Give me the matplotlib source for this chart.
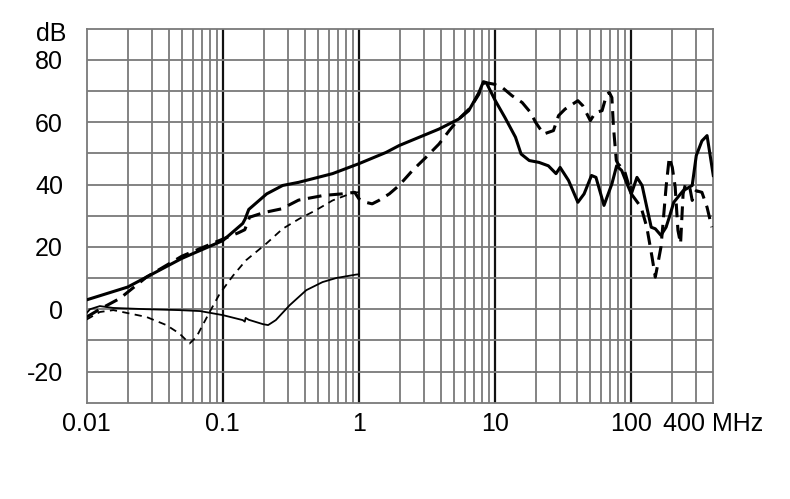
import matplotlib
matplotlib.use('Agg')
import matplotlib.pyplot as plt

plt.rcParams['font.family'] = ['Liberation Sans', 'DejaVu Sans']

# thick solid curve
solid_f = [0.01, 0.02, 0.05, 0.1, 0.14, 0.146, 0.155, 0.21, 0.275, 0.36, 0.64, 1.0, 1.58, 1.97,
           3.87, 5.4, 6.4, 7.6, 8.2, 8.6, 9.0, 10.0, 11.8, 14.1, 15.5, 17.8, 21, 24.6, 28, 30,
           34.6, 40.5, 45, 51, 55, 63, 72, 78, 85, 92, 100, 110, 120, 130, 140, 150, 165, 180,
           190, 205, 240, 280, 300, 330, 360, 400]
solid_db = [3, 7.1, 16.3, 22, 27.5, 29, 32, 37, 39.7, 40.7, 43.5, 46.7, 50.3, 52.5,
            57.8, 61, 63.7, 69.5, 73, 72.7, 71, 67, 61.5, 55.2, 49.8, 47.7, 47.1, 46, 43.5, 45.5,
            41.3, 34.3, 37, 42.9, 42.3, 33.3, 40.2, 46, 44.5, 40.7, 37, 42.3, 39.7, 32.7, 26.3, 25.8, 23.7, 26.3,
            29.5, 34.3, 38, 39.7, 49.3, 54, 55.7, 42.9]

# thick long-dashed curve
dash_f = [0.01, 0.0125, 0.0176, 0.0275, 0.05, 0.1, 0.13, 0.145, 0.157, 0.2, 0.27, 0.36, 0.55, 0.75,
          0.93, 1.0, 1.12, 1.25, 1.4, 1.67, 1.97, 2.47, 3.1, 3.87, 4.6, 5.4, 6.6, 7.6, 8.0, 8.5,
          9.8, 11.3, 13.3, 15.8, 18.2, 19.8, 22.7, 26.8, 29.2, 32.6, 40.5, 44, 50, 54.5, 61, 66,
          69, 72, 74, 77.6, 80, 89, 100, 118, 130, 142, 150, 155, 165, 170, 180, 190, 200, 210,
          220, 230, 240, 250, 270, 280, 300, 330, 360, 390]
dash_db = [-2.5, 0, 3.5, 10.3, 17, 22.5, 24.5, 25.5, 29.5, 31, 32.2, 35, 36.5, 37,
           37.5, 35.4, 34.3, 33.8, 34.9, 37, 39.7, 44.5, 48.7, 53, 57.3, 61, 64.7, 69, 72.2, 72.7,
           72.2, 71.1, 68.5, 66.3, 63.1, 60, 56.2, 57.3, 62.1, 64.2, 66.9, 65.3, 60.5, 63.1, 63.7, 69,
           69.5, 67.9, 58.3, 47.7, 46.6, 44.5, 37, 32.7, 26.3, 16.7, 10.3, 13.5, 19.9, 26.3, 39.2, 48.7, 45.5, 39.2,
           25.3, 21, 37, 40.2, 38.6, 34.9, 38, 37.5, 32.7, 26.3]

# thin short-dashed curve
thin_dash_f = [0.01, 0.0125, 0.0157, 0.0275, 0.0385, 0.048, 0.057, 0.064, 0.08, 0.095, 0.119,
               0.148, 0.208, 0.275, 0.364, 0.48, 0.64, 0.8, 0.95, 1.0]
thin_dash_db = [-3.3, -0.9, -0.3, -2.5, -5.1, -7.8, -11, -8.9, -0.9, 5, 10.8,
                15.7, 21, 25.8, 29, 31.7, 34.9, 36.5, 37.5, 37.5]

# thin solid curve
thin_f = [0.01, 0.0106, 0.0125, 0.0157, 0.0275, 0.048, 0.068, 0.1, 0.14, 0.145, 0.147, 0.155,
          0.197, 0.215, 0.245, 0.31, 0.41, 0.54, 0.68, 0.95, 1.0]
thin_db = [-1.2, 0, 1, 0.4, 0, -0.3, -0.6, -1.9, -3.5, -4, -2.8, -3.4,
           -4.8, -5.1, -3.5, 1.3, 6.1, 8.7, 10, 11.1, 11.2]

x_ticks = [0.01, 0.1, 1, 10, 100, 400]
x_labels = ['0.01', '0.1', '1', '10', '100', '400 MHz']
y_ticks = [-20, 0, 20, 40, 60, 80]
y_labels = ['-20', '0', '20', '40', '60', '80']

fig = plt.figure(figsize=(7.9, 4.99), dpi=100)
ax = fig.add_axes([0.1097, 0.193, 0.7932, 0.7495])
ax.set_xscale('log')
ax.set_xlim(0.01, 400)
ax.set_ylim(-30, 90)

# grid
for dec in [0.01, 0.1, 1, 10, 100]:
    for m in range(2, 10):
        f = dec * m
        if f < 400:
            ax.axvline(f, color='#7a7a7a', lw=1.3, zorder=1)
for f in [0.1, 1, 10, 100]:
    ax.axvline(f, color='#111111', lw=1.6, zorder=1)
for y in range(-20, 90, 10):
    ax.axhline(y, color='#7a7a7a', lw=1.3, zorder=1)
for s in ax.spines.values():
    s.set_color('#7a7a7a')
    s.set_linewidth(1.3)

ax.plot(thin_f, thin_db, color='black', lw=1.3, zorder=3)
ax.plot(thin_dash_f, thin_dash_db, color='black', lw=1.3, dashes=(4, 3), zorder=3)
ax.plot(dash_f, dash_db, color='black', lw=2.2, dashes=(4.5, 2.5), zorder=4)
ax.plot(solid_f, solid_db, color='black', lw=2.2, zorder=5)

ax.set_xticks(x_ticks)
ax.set_xticklabels(x_labels)
ax.minorticks_off()
ax.set_xticks([], minor=True)
ax.set_yticks(y_ticks)
ax.set_yticklabels(y_labels)
ax.tick_params(axis='both', length=0, labelsize=18)
ax.tick_params(axis='x', pad=6.5)
ax.tick_params(axis='y', pad=17)
ax.text(-0.033, 88.3, 'dB', transform=ax.get_yaxis_transform(), ha='right', va='center', fontsize=18)

fig.savefig('out.png', dpi=100)
